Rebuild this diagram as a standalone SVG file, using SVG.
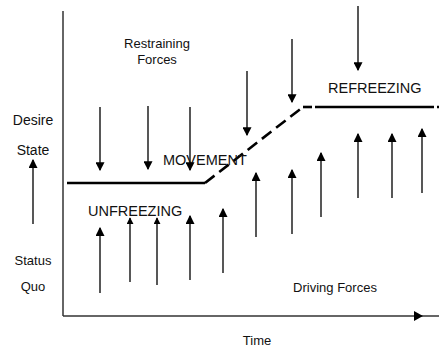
<svg xmlns="http://www.w3.org/2000/svg" width="439" height="347" viewBox="0 0 439 347">
<defs>
<marker id="ah" markerWidth="9" markerHeight="9" viewBox="0 0 8 8" refX="7" refY="4" orient="auto" markerUnits="userSpaceOnUse">
<path d="M0,0 L8,4 L0,8 z" fill="#000"/>
</marker>
<marker id="ahs" markerWidth="7" markerHeight="7" viewBox="0 0 8 8" refX="7" refY="4" orient="auto" markerUnits="userSpaceOnUse">
<path d="M0,0 L8,4 L0,8 z" fill="#000"/>
</marker>
</defs>
<style>
text{font-family:"Liberation Sans",Arial,sans-serif;fill:#111}
.lbl{font-size:13px}
.big{font-size:14px}
.stage{font-size:14.5px}
.axis{stroke:#333;stroke-width:1.5;fill:none}
.arr{stroke:#111;stroke-width:1.4;fill:none;marker-end:url(#ah)}
.arrs{stroke:#111;stroke-width:1.4;fill:none;marker-end:url(#ahs)}
.state{stroke:#000;stroke-width:2.6;fill:none}
</style>
<rect width="439" height="347" fill="#fff"/>
<g id="axes">
<line class="axis" x1="63" y1="11" x2="63" y2="316"/>
<line class="axis" x1="63" y1="316" x2="439" y2="316"/>
<path d="M414,311 L423,316 L414,321 z" fill="#000"/>
</g>
<g id="labels">
<text class="lbl" x="157" y="48" text-anchor="middle">Restraining</text>
<text class="lbl" x="157" y="64" text-anchor="middle">Forces</text>
<text class="big" x="33" y="125" text-anchor="middle">Desire</text>
<text class="big" x="33" y="155" text-anchor="middle">State</text>
<text class="lbl" x="33" y="265" text-anchor="middle">Status</text>
<text class="lbl" x="33" y="291" text-anchor="middle">Quo</text>
<text class="lbl" x="335" y="292" text-anchor="middle">Driving Forces</text>
<text class="lbl" x="257" y="345" text-anchor="middle">Time</text>
</g>
<g id="state-line">
<line class="state" x1="67" y1="183" x2="205" y2="183"/>
<line class="state" x1="205" y1="183" x2="303" y2="107" stroke-dasharray="12 6"/>
<line class="state" x1="303" y1="107" x2="312" y2="107"/>
<line class="state" x1="315" y1="107" x2="434" y2="107"/>
<line class="state" x1="437" y1="107" x2="439" y2="107"/>
</g>
<g id="stages">
<text class="stage" x="163" y="165">MOVEMENT</text>
<text class="stage" x="88" y="216">UNFREEZING</text>
<text class="stage" x="328" y="93">REFREEZING</text>
</g>
<g id="connectors">
<line class="arr" x1="33" y1="224" x2="33" y2="160"/>
<line class="arr" x1="100" y1="107" x2="100" y2="170"/>
<line class="arr" x1="148" y1="106" x2="148" y2="169"/>
<line class="arr" x1="190" y1="107" x2="190" y2="170"/>
<line class="arr" x1="247" y1="71" x2="247" y2="135"/>
<line class="arr" x1="292" y1="39" x2="292" y2="102"/>
<line class="arr" x1="358" y1="6" x2="358" y2="70"/>
<line class="arr" x1="100" y1="293" x2="100" y2="228"/>
<line class="arrs" x1="130" y1="282" x2="130" y2="218"/>
<line class="arrs" x1="157" y1="285" x2="157" y2="218"/>
<line class="arr" x1="190" y1="280" x2="190" y2="216"/>
<line class="arr" x1="223" y1="273" x2="223" y2="209"/>
<line class="arr" x1="256" y1="237" x2="256" y2="173"/>
<line class="arr" x1="292" y1="234" x2="292" y2="170"/>
<line class="arr" x1="321" y1="217" x2="321" y2="153"/>
<line class="arr" x1="358" y1="198" x2="358" y2="134"/>
<line class="arr" x1="392" y1="198" x2="392" y2="134"/>
<line class="arr" x1="422" y1="193" x2="422" y2="129"/>
</g>
</svg>
